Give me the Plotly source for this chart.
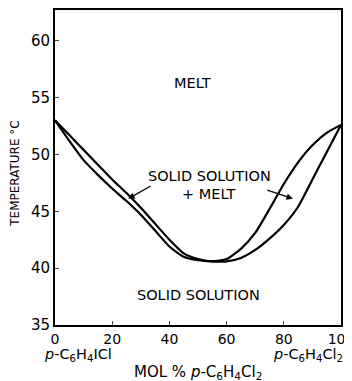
import plotly.graph_objects as go

mol_pct = [0, 5, 10, 15, 20, 25, 30, 35, 40, 45, 50, 55, 60, 65, 70, 75, 80, 85, 90, 95, 100]
liquidus = [53.0, 51.7, 50.4, 49.1, 47.8, 46.6, 45.3, 43.9, 42.5, 41.3, 40.8, 40.6, 40.8, 41.7,
            43.1, 45.2, 47.4, 49.3, 50.8, 51.9, 52.6]
solidus = [53.0, 51.2, 49.5, 48.2, 47.0, 45.9, 44.7, 43.3, 41.9, 41.0, 40.7, 40.6, 40.6, 40.9,
           41.6, 42.6, 43.8, 45.4, 47.8, 50.2, 52.6]
x_ticks = [0, 20, 40, 60, 80, 100]
y_ticks = [35, 40, 45, 50, 55, 60]

FONT = "DejaVu Sans"
fig = go.Figure()
for ys in (liquidus, solidus):
    fig.add_trace(go.Scatter(x=mol_pct, y=ys, mode="lines",
                             line=dict(color="black", width=2.2, shape="spline", smoothing=0.6),
                             showlegend=False, hoverinfo="skip"))

C = dict(xanchor="center", yanchor="middle", showarrow=False)
ann = []
ann.append(dict(x=48, y=56.3, text="MELT", font=dict(size=14.5), **C))
ann.append(dict(x=54, y=48.1, text="SOLID SOLUTION", font=dict(size=14.5), **C))
ann.append(dict(x=54, y=46.5, text="+ MELT", font=dict(size=14.5), **C))
ann.append(dict(x=50.2, y=37.6, text="SOLID SOLUTION", font=dict(size=14.5), **C))
ann.append(dict(x=25.6, y=46.1, ax=34.0, ay=47.3, axref="x", ayref="y", text="",
                showarrow=True, arrowhead=2, arrowsize=1, arrowwidth=1.3, arrowcolor="black"))
ann.append(dict(x=83.2, y=46.1, ax=73.7, ay=46.9, axref="x", ayref="y", text="",
                showarrow=True, arrowhead=2, arrowsize=1, arrowwidth=1.3, arrowcolor="black"))
ann.append(dict(x=0.08, y=-0.094, xref="paper", yref="paper",
                text="<i>p</i>-C<sub>6</sub>H<sub>4</sub>ICl", font=dict(size=14.5), **C))
ann.append(dict(x=0.885, y=-0.094, xref="paper", yref="paper",
                text="<i>p</i>-C<sub>6</sub>H<sub>4</sub>Cl<sub>2</sub>", font=dict(size=14.5), **C))
ann.append(dict(x=0.5, y=-0.152, xref="paper", yref="paper",
                text="MOL % <i>p</i>-C<sub>6</sub>H<sub>4</sub>Cl<sub>2</sub>", font=dict(size=15), **C))
ann.append(dict(x=-0.14, y=0.48, xref="paper", yref="paper", textangle=-90,
                text="TEMPERATURE °C", font=dict(size=12), **C))

fig.update_layout(
    width=344, height=373,
    margin=dict(l=47, r=11, t=2, b=56),
    paper_bgcolor="white", plot_bgcolor="white",
    font=dict(family=FONT, color="black", size=15),
    annotations=ann,
    xaxis=dict(range=[0, 100], tickvals=x_ticks, ticks="inside", ticklen=4, tickwidth=1,
               showline=True, linecolor="black", linewidth=2, mirror=True, showgrid=False,
               zeroline=False, tickfont=dict(size=14), automargin=False, ticklabelstandoff=0,
               ticklabeloverflow="allow"),
    yaxis=dict(range=[35, 62.7], tickvals=y_ticks, ticks="inside", ticklen=4, tickwidth=1,
               showline=True, linecolor="black", linewidth=2, mirror=True, showgrid=False,
               zeroline=False, tickfont=dict(size=15), automargin=False),
)
fig.write_html("out.html")
